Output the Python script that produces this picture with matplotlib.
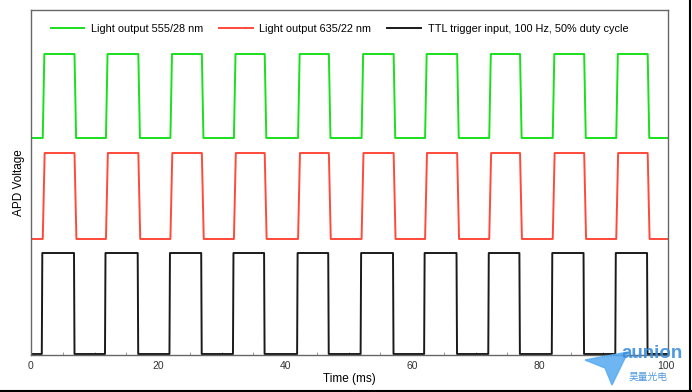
import numpy as np
import matplotlib
matplotlib.use("Agg")
import matplotlib.pyplot as plt
from matplotlib.lines import Line2D
from matplotlib.patches import Polygon

plt.rcParams['font.family'] = ['Liberation Sans', 'Noto Sans CJK SC', 'DejaVu Sans']

# edge times (ms)
ttl_rise = [1.7, 11.65, 21.8, 31.8, 41.9, 51.9, 61.9, 72.0, 82.0, 92.0]
ttl_fall = [6.77, 16.8, 26.8, 36.7, 46.8, 57.0, 67.0, 76.9, 87.0, 97.0]
green_rise = [1.85, 11.8, 21.95, 31.95, 42.05, 52.05, 62.05, 72.15, 82.15, 92.15]
green_fall = [6.85, 16.9, 26.9, 36.8, 46.9, 57.1, 67.1, 77.0, 87.1, 97.1]
red_rise = [1.85, 11.8, 21.95, 31.95, 42.05, 52.05, 62.05, 72.15, 82.15, 92.15]
red_fall = [6.85, 16.9, 26.9, 36.8, 46.9, 57.1, 67.1, 77.0, 87.1, 97.1]

# levels (arb. units, stacked traces)
green_levels = (217, 301)
red_levels = (116, 202)
ttl_levels = (1, 102)

t_end = 100.3


def trace(rise, fall, levels, ramp):
    lo, hi = levels
    t = [0.0]
    v = [lo]
    for r, f in zip(rise, fall):
        t += [r, r + ramp, f, f + ramp]
        v += [lo, hi, hi, lo]
    t.append(t_end)
    v.append(lo)
    return t, v


fig = plt.figure(figsize=(6.92, 3.92), dpi=100)
ax = fig.add_axes([31 / 692, 37 / 392, 637 / 692, 345 / 392])

tg, vg = trace(green_rise, green_fall, green_levels, 0.25)
tr, vr = trace(red_rise, red_fall, red_levels, 0.3)
tt, vt = trace(ttl_rise, ttl_fall, ttl_levels, 0.08)

ax.plot(tg, vg, color='#19e01c', lw=1.4, label='Light output 555/28 nm')
ax.plot(tr, vr, color='#ff4a3a', lw=1.4, label='Light output 635/22 nm')
ax.plot(tt, vt, color='#1a1a1a', lw=1.4, label='TTL trigger input, 100 Hz, 50% duty cycle')

ax.set_xlim(0, t_end)
ax.set_ylim(0, 345)
ax.set_yticks([])
ax.set_xticks([0, 20, 40, 60, 80, 100])
ax.set_xticks(np.arange(5, 100, 5), minor=True)
ax.tick_params(axis='x', which='major', direction='in', length=0, pad=4, labelsize=7.5, colors='#333333')
ax.tick_params(axis='x', which='minor', direction='in', length=2, color='#888888')
ax.set_xlabel('Time (ms)', fontsize=8.5, labelpad=2)
ax.set_ylabel('APD Voltage', fontsize=8.5, labelpad=4)
for s in ax.spines.values():
    s.set_color('#666666')
    s.set_linewidth(1.0)

ax.legend(loc='upper left', ncol=3, frameon=False, fontsize=7.8,
          bbox_to_anchor=(0.012, 0.995), handlelength=3.1, columnspacing=1.5,
          handletextpad=0.6, borderaxespad=0.7)

# watermark
fig.text(652 / 692, 1 - 354 / 392, 'aunion', ha='center', va='center',
         fontsize=13.5, fontweight='bold', color='#3b8ede', alpha=0.9)
fig.text(648 / 692, 1 - 377 / 392, '昊量光电', ha='center', va='center',
         fontsize=7, color='#3b8ede', alpha=0.9, family=['Noto Sans CJK SC'])
logo = Polygon([[585 / 692, 1 - 360 / 392], [628 / 692, 1 - 352 / 392],
                [612 / 692, 1 - 385 / 392], [605 / 692, 1 - 368 / 392]],
               closed=True, transform=fig.transFigure, color='#55aaf0', alpha=0.85)
fig.add_artist(logo)

# screenshot frame edges
fig.add_artist(Line2D([0, 1], [1.5 / 392, 1.5 / 392], transform=fig.transFigure, color='black', lw=1.5))
fig.add_artist(Line2D([690 / 692, 690 / 692], [0, 1], transform=fig.transFigure, color='black', lw=1.5))

fig.savefig('out.png', dpi=100)
